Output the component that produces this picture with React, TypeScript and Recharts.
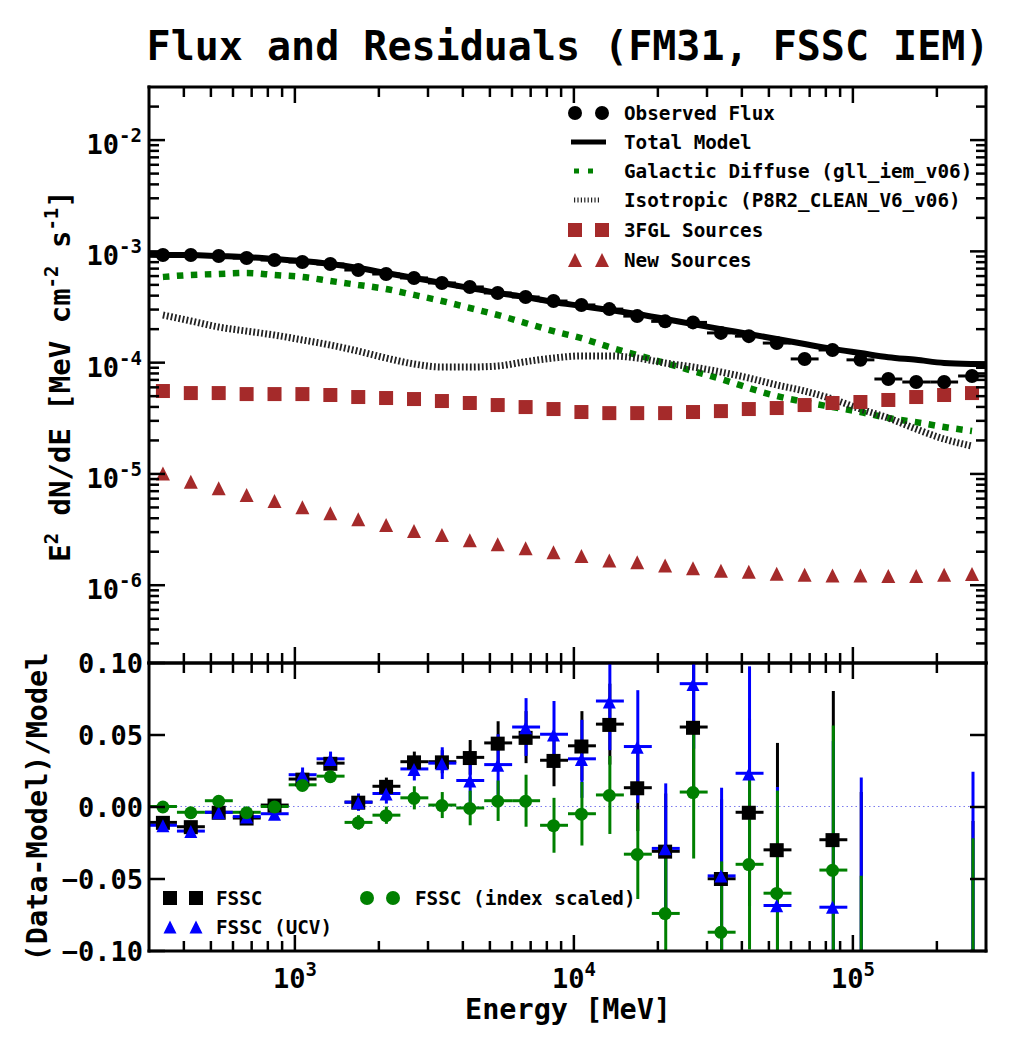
import React from "react";
import {
  ComposedChart,
  Line,
  Scatter,
  XAxis,
  YAxis,
  ErrorBar,
  ReferenceLine,
} from "recharts";

const FONT = "'DejaVu Sans Mono', 'Liberation Mono', monospace";
const W = 1015;
const H = 1050;

// energy binning [MeV], 10 bins per decade from 300 MeV to 300 GeV
const binCenters = [
  336.5, 423.6, 533.3, 671.4, 845.3, 1064, 1340, 1687, 2123, 2673, 3365, 4236,
  5333, 6714, 8453, 10641, 13396, 16866, 21232, 26730, 33651, 42364, 53333,
  67143, 84528, 106414, 133968, 168655, 212324, 267301,
];
const binEdges = [
  300, 377.7, 475.5, 598.6, 753.6, 948.7, 1194, 1504, 1893, 2383, 3000, 3777,
  4755, 5986, 7536, 9487, 11943, 15036, 18929, 23830, 30000, 37768, 47547,
  59858, 75357, 94868, 119432, 150357, 189287, 238298, 300000,
];
const modelEnergy = [300, ...binCenters, 300000];

// top panel: E^2 dN/dE [MeV cm^-2 s^-1]
const observedFlux = [
  9.27e-4, 9.27e-4, 9.08e-4, 8.71e-4, 8.36e-4, 8.02e-4, 7.7e-4, 6.8e-4, 6.26e-4,
  5.77e-4, 5.2e-4, 4.79e-4, 4.23e-4, 3.89e-4, 3.58e-4, 3.3e-4, 3.03e-4, 2.62e-4,
  2.35e-4, 2.3e-4, 1.85e-4, 1.73e-4, 1.5e-4, 1.08e-4, 1.3e-4, 1.06e-4, 7.13e-5,
  6.7e-5, 6.7e-5, 7.59e-5,
];
const totalModel = [
  9.4e-4, 9.27e-4, 9.27e-4, 9.08e-4, 8.89e-4, 8.53e-4, 8.19e-4, 7.7e-4, 7.09e-4,
  6.4e-4, 5.77e-4, 5.2e-4, 4.69e-4, 4.23e-4, 3.89e-4, 3.51e-4, 3.23e-4, 2.97e-4,
  2.74e-4, 2.47e-4, 2.22e-4, 2.0e-4, 1.81e-4, 1.63e-4, 1.47e-4, 1.33e-4,
  1.22e-4, 1.12e-4, 1.06e-4, 9.93e-5, 9.73e-5, 9.7e-5,
];
const galacticDiffuse = [
  5.89e-4, 6.14e-4, 6.27e-4, 6.4e-4, 6.14e-4, 5.89e-4, 5.42e-4, 4.99e-4,
  4.59e-4, 4.06e-4, 3.58e-4, 3.1e-4, 2.68e-4, 2.27e-4, 1.92e-4, 1.66e-4,
  1.38e-4, 1.17e-4, 9.93e-5, 8.41e-5, 7.13e-5, 5.92e-5, 5.01e-5, 4.43e-5,
  3.99e-5, 3.6e-5, 3.18e-5, 2.92e-5, 2.64e-5, 2.43e-5,
];
const isotropic = [
  2.68e-4, 2.37e-4, 2.09e-4, 1.92e-4, 1.77e-4, 1.6e-4, 1.44e-4, 1.27e-4, 1.1e-4,
  9.73e-5, 9.14e-5, 9.14e-5, 9.33e-5, 1.02e-4, 1.1e-4, 1.15e-4, 1.15e-4, 1.1e-4,
  9.93e-5, 9.14e-5, 8.24e-5, 7.28e-5, 6.3e-5, 5.56e-5, 4.71e-5, 3.83e-5,
  3.18e-5, 2.53e-5, 2.06e-5, 1.78e-5,
];
const fglSources = [
  5.56e-5, 5.33e-5, 5.33e-5, 5.22e-5, 5.22e-5, 5.22e-5, 5.12e-5, 4.91e-5,
  4.81e-5, 4.71e-5, 4.52e-5, 4.34e-5, 4.16e-5, 3.99e-5, 3.83e-5, 3.6e-5,
  3.52e-5, 3.52e-5, 3.52e-5, 3.6e-5, 3.67e-5, 3.83e-5, 3.91e-5, 4.16e-5,
  4.34e-5, 4.43e-5, 4.62e-5, 4.91e-5, 5.12e-5, 5.33e-5,
];
const newSources = [
  1.01e-5, 8.51e-6, 7.43e-6, 6.47e-6, 5.71e-6, 5.01e-6, 4.43e-6, 3.91e-6,
  3.48e-6, 3.07e-6, 2.83e-6, 2.53e-6, 2.33e-6, 2.15e-6, 1.98e-6, 1.83e-6,
  1.67e-6, 1.61e-6, 1.5e-6, 1.42e-6, 1.35e-6, 1.32e-6, 1.27e-6, 1.24e-6,
  1.22e-6, 1.22e-6, 1.21e-6, 1.21e-6, 1.24e-6, 1.26e-6,
];

// bottom panel: (Data-Model)/Model
const resFssc = [
  -0.011, -0.014, -0.004, -0.008, 0.001, 0.019, 0.03, 0.003, 0.014, 0.031,
  0.031, 0.034, 0.044, 0.048, 0.032, 0.042, 0.057, 0.013, -0.031, 0.055,
  -0.05, -0.004, -0.03, null, -0.023, -0.13, null, null, null, -0.21,
];
const resFsscErr = [
  0.003, 0.003, 0.003, 0.003, 0.003, 0.004, 0.004, 0.005, 0.006, 0.007, 0.008,
  0.012, 0.015, 0.018, 0.018, 0.024, 0.028, 0.03, 0.04, 0.046, 0.055, 0.065,
  0.074, null, 0.103, 0.14, null, null, null, 0.2,
];
const resUcv = [
  -0.013, -0.017, -0.004, -0.007, -0.005, 0.022, 0.033, 0.003, 0.009, 0.026,
  0.03, 0.018, 0.029, 0.055, 0.05, 0.033, 0.073, 0.0415, -0.029, 0.085,
  -0.048, 0.023, -0.0685, null, -0.0697, -0.13, null, null, null, -0.2,
];
const resUcvErr = [
  0.003, 0.003, 0.003, 0.003, 0.003, 0.005, 0.005, 0.006, 0.007, 0.008, 0.011,
  0.016, 0.021, 0.02, 0.023, 0.027, 0.034, 0.039, 0.045, 0.045, 0.061, 0.074,
  0.082, null, 0.115, 0.15, null, null, null, 0.224,
];
const resIdx = [
  0.0, -0.004, 0.004, -0.004, 0.0, 0.015, 0.021, -0.011, -0.006, 0.006, 0.001,
  -0.001, 0.004, 0.004, -0.013, -0.005, 0.008, -0.033, -0.074, 0.01, -0.087,
  -0.04, -0.06, null, -0.044, -0.16, null, null, null, -0.2,
];
const resIdxErr = [
  0.003, 0.003, 0.003, 0.003, 0.003, 0.004, 0.004, 0.005, 0.006, 0.008, 0.009,
  0.012, 0.014, 0.018, 0.019, 0.022, 0.027, 0.031, 0.043, 0.046, 0.049, 0.059,
  0.071, null, 0.1, 0.112, null, null, null, 0.178,
];

const energyTicks = [
  400, 500, 600, 700, 800, 900, 1000, 2000, 3000, 4000, 5000, 6000, 7000, 8000,
  9000, 10000, 20000, 30000, 40000, 50000, 60000, 70000, 80000, 90000, 100000,
  200000,
];
const fluxTicks = [
  3e-7, 4e-7, 5e-7, 6e-7, 7e-7, 8e-7, 9e-7, 1e-6, 2e-6, 3e-6, 4e-6, 5e-6, 6e-6,
  7e-6, 8e-6, 9e-6, 1e-5, 2e-5, 3e-5, 4e-5, 5e-5, 6e-5, 7e-5, 8e-5, 9e-5, 1e-4,
  2e-4, 3e-4, 4e-4, 5e-4, 6e-4, 7e-4, 8e-4, 9e-4, 1e-3, 2e-3, 3e-3, 4e-3, 5e-3,
  6e-3, 7e-3, 8e-3, 9e-3, 1e-2, 2e-2,
];
const residualTicks = [-0.1, -0.05, 0, 0.05, 0.1];

const BROWN = "#a52a2a";
const GREEN = "#008000";
const BLUE = "#0000ff";

const binErr = binCenters.map((e, i) => [e - binEdges[i], binEdges[i + 1] - e]);
const points = (vals: (number | null)[], errs?: (number | null)[]) =>
  binCenters
    .map((e, i) => ({ e, v: vals[i], xe: binErr[i], ye: errs ? errs[i] : 0 }))
    .filter((d) => d.v !== null);

const modelData = modelEnergy.map((e, i) => ({ e, v: totalModel[i] }));
const diffuseData = points(galacticDiffuse);
const isoData = points(isotropic);
const fluxData = points(observedFlux);
const fglData = points(fglSources);
const newData = points(newSources);
const fsscData = points(resFssc, resFsscErr);
const ucvData = points(resUcv, resUcvErr);
const idxData = points(resIdx, resIdxErr);

const axisLine = { stroke: "#000", strokeWidth: 3, strokeLinecap: "square" as const };
const MAJOR = 16;
const MINOR = 10;
const isDecade = (v: number) =>
  Math.abs(Math.log10(v) - Math.round(Math.log10(v))) < 1e-6;

const Mark = (p: { x1: number; y1: number; x2: number; y2: number }) => (
  <line {...p} stroke="#000" strokeWidth={2.5} />
);

const textStyle = { fontFamily: FONT, fontWeight: "bold" as const, fill: "#000" };

function Pow10({ x, y, exp, anchor }: { x: number; y: number; exp: number; anchor: "end" | "middle" }) {
  return (
    <text x={x} y={y} textAnchor={anchor} fontSize={27} {...textStyle}>
      <tspan>10</tspan>
      <tspan dy={-12} fontSize={19}>
        {exp}
      </tspan>
    </text>
  );
}

const leftLogTick = (p: any) => {
  const v = p.payload.value;
  const major = isDecade(v);
  return (
    <g>
      <Mark x1={p.x} y1={p.y} x2={p.x + (major ? MAJOR : MINOR)} y2={p.y} />
      {major && <Pow10 x={p.x - 7} y={p.y + 14} exp={Math.round(Math.log10(v))} anchor="end" />}
    </g>
  );
};
const rightLogTick = (p: any) => {
  const major = isDecade(p.payload.value);
  return <Mark x1={p.x} y1={p.y} x2={p.x - (major ? MAJOR : MINOR)} y2={p.y} />;
};
const upTick = (labels: boolean) => (p: any) => {
  const v = p.payload.value;
  const major = isDecade(v);
  return (
    <g>
      <Mark x1={p.x} y1={p.y} x2={p.x} y2={p.y - (major ? MAJOR : MINOR)} />
      {labels && major && <Pow10 x={p.x} y={p.y + 37} exp={Math.round(Math.log10(v))} anchor="middle" />}
    </g>
  );
};
const downTick = (p: any) => {
  const major = isDecade(p.payload.value);
  return <Mark x1={p.x} y1={p.y} x2={p.x} y2={p.y + (major ? MAJOR : MINOR)} />;
};
const residLeftTick = (p: any) => {
  const v = p.payload.value;
  const label = v < 0 ? "\u2212" + Math.abs(v).toFixed(2) : v.toFixed(2);
  return (
    <g>
      <Mark x1={p.x} y1={p.y} x2={p.x + MAJOR} y2={p.y} />
      <text x={p.x - 6} y={p.y + 10} textAnchor="end" fontSize={27} {...textStyle}>
        {label}
      </text>
    </g>
  );
};
const residRightTick = (p: any) => <Mark x1={p.x} y1={p.y} x2={p.x - MAJOR} y2={p.y} />;

const square = (size: number, fill: string) => (p: any) =>
  <rect x={p.cx - size / 2} y={p.cy - size / 2} width={size} height={size} fill={fill} />;
const circle = (r: number, fill: string) => (p: any) => <circle cx={p.cx} cy={p.cy} r={r} fill={fill} />;
const triangle = (h: number, fill: string) => (p: any) => (
  <polygon
    points={`${p.cx},${p.cy - h} ${p.cx - h},${p.cy + h} ${p.cx + h},${p.cy + h}`}
    fill={fill}
  />
);
const nothing = () => <g />;

// shared axis props; axes get a 1px box because zero-sized axes are not drawn
const xAxisCommon = {
  type: "number" as const,
  dataKey: "e",
  scale: "log" as const,
  domain: [300, 300000],
  allowDataOverflow: true,
  ticks: energyTicks,
  interval: 0 as const,
  height: 1,
  tickSize: 0,
  tickMargin: 0,
  tickLine: false,
  axisLine,
};
const residYCommon = {
  type: "number" as const,
  domain: [-0.1, 0.1],
  allowDataOverflow: true,
  ticks: residualTicks,
  interval: 0 as const,
  width: 1,
  tickSize: 0,
  tickMargin: 0,
  tickLine: false,
  axisLine,
};
const residMargin = { top: 662, right: 28, bottom: 98, left: 148 };

function FluxPanel() {
  const yCommon = {
    type: "number" as const,
    scale: "log" as const,
    domain: [2e-7, 3e-2],
    allowDataOverflow: true,
    ticks: fluxTicks,
    interval: 0 as const,
    width: 1,
    tickSize: 0,
    tickMargin: 0,
    tickLine: false,
    axisLine,
  };
  return (
    <ComposedChart width={W} height={H} margin={{ top: 86, right: 28, bottom: 386, left: 148 }}>
      <XAxis {...xAxisCommon} tick={upTick(false)} />
      <XAxis {...xAxisCommon} xAxisId="top" orientation="top" tick={downTick} />
      <YAxis {...yCommon} tick={leftLogTick} />
      <YAxis {...yCommon} yAxisId="right" orientation="right" tick={rightLogTick} />
      <Line data={modelData} dataKey="v" type="monotone" stroke="#000" strokeWidth={6} dot={false} isAnimationActive={false} />
      <Line
        data={diffuseData}
        dataKey="v"
        type="monotone"
        stroke={GREEN}
        strokeWidth={6.5}
        strokeDasharray="6.5 7.5"
        dot={false}
        isAnimationActive={false}
      />
      <Line
        data={isoData}
        dataKey="v"
        type="monotone"
        stroke="#222"
        strokeWidth={7}
        strokeDasharray="1.8 2.2"
        dot={false}
        isAnimationActive={false}
      />
      <Scatter data={fglData} dataKey="v" shape={square(14, BROWN)} isAnimationActive={false} />
      <Scatter data={newData} dataKey="v" shape={triangle(7, BROWN)} isAnimationActive={false} />
      <Scatter data={fluxData} dataKey="v" shape={circle(7, "#000")} isAnimationActive={false}>
        <ErrorBar dataKey="xe" direction="x" width={0} stroke="#000" strokeWidth={3} isAnimationActive={false} />
      </Scatter>
    </ComposedChart>
  );
}

// residual error bars; error bars are not clipped by the chart, so the wrapper clips them
function ResidualBars() {
  const bar = (color: string) => [
    <ErrorBar key="y" dataKey="ye" direction="y" width={0} stroke={color} strokeWidth={3} isAnimationActive={false} />,
    <ErrorBar key="x" dataKey="xe" direction="x" width={0} stroke={color} strokeWidth={3} isAnimationActive={false} />,
  ];
  return (
    <ComposedChart width={W} height={H} margin={residMargin}>
      <XAxis {...xAxisCommon} tick={false} axisLine={false} />
      <YAxis {...residYCommon} tick={false} axisLine={false} />
      <ReferenceLine y={0} stroke="#7a7aee" strokeWidth={1.2} strokeDasharray="1.5 3" />
      <Scatter data={fsscData} dataKey="v" shape={nothing} isAnimationActive={false}>
        {bar("#000")}
      </Scatter>
      <Scatter data={ucvData} dataKey="v" shape={nothing} isAnimationActive={false}>
        {bar(BLUE)}
      </Scatter>
      <Scatter data={idxData} dataKey="v" shape={nothing} isAnimationActive={false}>
        {bar(GREEN)}
      </Scatter>
    </ComposedChart>
  );
}

function ResidualPanel() {
  return (
    <ComposedChart width={W} height={H} margin={residMargin}>
      <XAxis {...xAxisCommon} tick={upTick(true)} />
      <XAxis {...xAxisCommon} xAxisId="top" orientation="top" tick={downTick} />
      <YAxis {...residYCommon} tick={residLeftTick} />
      <YAxis {...residYCommon} yAxisId="right" orientation="right" tick={residRightTick} />
      <Scatter data={fsscData} dataKey="v" shape={square(14, "#000")} isAnimationActive={false} />
      <Scatter data={ucvData} dataKey="v" shape={triangle(6.5, BLUE)} isAnimationActive={false} />
      <Scatter data={idxData} dataKey="v" shape={circle(6.5, GREEN)} isAnimationActive={false} />
    </ComposedChart>
  );
}

function Labels() {
  const sup = { fontSize: 19 };
  return (
    <svg width={W} height={H} style={{ position: "absolute", left: 0, top: 0, pointerEvents: "none" }}>
      <g {...textStyle} style={{ whiteSpace: "pre" }}>
        <text x={568} y={60} textAnchor="middle" fontSize={40}>
          Flux and Residuals (FM31, FSSC IEM)
        </text>
        <text x={568} y={1019} textAnchor="middle" fontSize={28.5}>
          Energy [MeV]
        </text>
        <text transform="translate(70,376) rotate(-90)" textAnchor="middle" fontSize={29}>
          <tspan>E</tspan>
          <tspan dy={-12} {...sup}>2</tspan>
          <tspan dy={12}> dN/dE [MeV cm</tspan>
          <tspan dy={-12} {...sup}>-2</tspan>
          <tspan dy={12}> s</tspan>
          <tspan dy={-12} {...sup}>-1</tspan>
          <tspan dy={12}>]</tspan>
        </text>
        <text transform="translate(47,807) rotate(-90)" textAnchor="middle" fontSize={28.5}>
          (Data-Model)/Model
        </text>

        {/* top legend */}
        <g fontSize={19.3}>
          <circle cx={575} cy={113} r={7} fill="#000" />
          <circle cx={602} cy={113} r={7} fill="#000" />
          <text x={624} y={120}>Observed Flux</text>
          <line x1={571} y1={142} x2={606} y2={142} stroke="#000" strokeWidth={5} />
          <text x={624} y={149}>Total Model</text>
          <line x1={574} y1={171} x2={597} y2={171} stroke={GREEN} strokeWidth={5} strokeDasharray="5 9" />
          <text x={624} y={178}>Galactic Diffuse (gll_iem_v06)</text>
          <line x1={574} y1={200} x2={600} y2={200} stroke="#222" strokeWidth={5} strokeDasharray="1.2 2.2" />
          <text x={624} y={207}>Isotropic (P8R2_CLEAN_V6_v06)</text>
          <rect x={568} y={223} width={14} height={14} fill={BROWN} />
          <rect x={595} y={223} width={14} height={14} fill={BROWN} />
          <text x={624} y={237}>3FGL Sources</text>
          <polygon points="575,253 568,267 582,267" fill={BROWN} />
          <polygon points="602,253 595,267 609,267" fill={BROWN} />
          <text x={624} y={267}>New Sources</text>
        </g>

        {/* bottom legend */}
        <g fontSize={19.3}>
          <rect x={163} y={891} width={14} height={14} fill="#000" />
          <rect x={189} y={891} width={14} height={14} fill="#000" />
          <text x={216} y={905}>FSSC</text>
          <polygon points="170,920.5 163.5,933.5 176.5,933.5" fill={BLUE} />
          <polygon points="196,920.5 189.5,933.5 202.5,933.5" fill={BLUE} />
          <text x={216} y={934}>FSSC (UCV)</text>
          <circle cx={367} cy={898} r={7} fill={GREEN} />
          <circle cx={393} cy={898} r={7} fill={GREEN} />
          <text x={415} y={905}>FSSC (index scaled)</text>
        </g>
      </g>
    </svg>
  );
}

export default function App() {
  return (
    <div style={{ position: "absolute", left: 0, top: 0, width: W, height: H, background: "#fff" }}>
      <div style={{ position: "absolute", left: 0, top: 0 }}>
        <FluxPanel />
      </div>
      <div style={{ position: "absolute", left: 0, top: 0, clipPath: "inset(663px 29px 99px 149px)" }}>
        <ResidualBars />
      </div>
      <div style={{ position: "absolute", left: 0, top: 0 }}>
        <ResidualPanel />
      </div>
      <Labels />
    </div>
  );
}
